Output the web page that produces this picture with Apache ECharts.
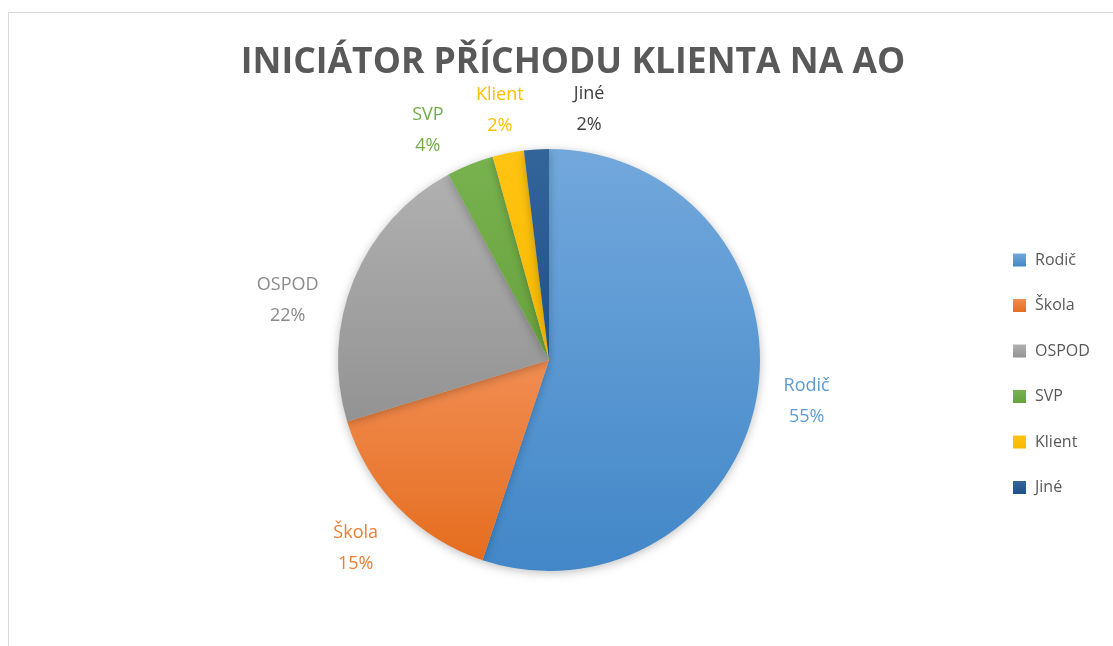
<!DOCTYPE html>
<html>
<head>
<meta charset="utf-8">
<title>Iniciátor příchodu klienta na AO</title>
<script src="https://cdn.jsdelivr.net/npm/echarts@6/dist/echarts.min.js"></script>
<style>
  html, body { margin: 0; padding: 0; background: #fff; }
  #chart { width: 1113px; height: 646px; }
</style>
</head>
<body>
<div id="chart"></div>
<script>
// data (share of clients, %)
const categories = ['Rodič', 'Škola', 'OSPOD', 'SVP', 'Klient', 'Jiné']
const values = [55.1, 15.2, 21.8, 3.6, 2.4, 1.9]

// slice colours: [top, bottom] of the gradient, plus label colour
const sliceColors = [
  ['#72a8dc', '#4287c8'],
  ['#f18d52', '#e56d1f'],
  ['#b0b0b0', '#939393'],
  ['#78b24e', '#68a23d'],
  ['#ffc412', '#f7b900'],
  ['#33659b', '#1f5189']
]
const labelColors = ['#5b9bd5', '#ed7d31', '#8a8a8a', '#70ad47', '#ffc000', '#404040']

// label placement: angle nudge (deg) and distance from the centre
const labelPlace = [
  { da: 0, d: 261 },
  { da: 0, d: 270 },
  { da: -9.5, d: 268 },
  { da: -5.8, d: 260 },
  { da: 0, d: 254 },
  { da: 12.5, d: 254 }
]

const cx = 549
const cy = 360
const radius = 211
const font = '"Open Sans", "Noto Sans", sans-serif'

const total = values.reduce((a, b) => a + b, 0)

const chart = echarts.init(document.getElementById('chart'))

chart.setOption({
  backgroundColor: '#fff',
  animation: false,
  graphic: [{
    type: 'rect',
    shape: { x: 8.5, y: 12.5, width: 1200, height: 700 },
    style: { fill: 'none', stroke: '#d9d9d9', lineWidth: 1 },
    silent: true
  }],
  title: {
    text: 'INICIÁTOR PŘÍCHODU KLIENTA NA AO',
    left: 568,
    top: 40,
    textAlign: 'center',
    textStyle: {
      fontFamily: font,
      fontWeight: 'bold',
      fontSize: 35.5,
      color: '#595959'
    }
  },
  legend: {
    orient: 'vertical',
    left: 1008,
    top: 247,
    itemWidth: 13,
    itemHeight: 13,
    itemGap: 29.5,
    icon: 'rect',
    data: categories,
    textStyle: {
      fontFamily: font,
      fontSize: 16,
      color: '#595959',
      padding: [0, 0, 0, 4]
    }
  },
  series: [{
    type: 'pie',
    center: [cx, cy],
    radius: radius,
    startAngle: 90,
    clockwise: true,
    avoidLabelOverlap: false,
    data: categories.map((name, i) => ({
      name: name,
      value: values[i],
      itemStyle: {
        color: new echarts.graphic.LinearGradient(0, 0, 0, 1, [
          { offset: 0, color: sliceColors[i][0] },
          { offset: 1, color: sliceColors[i][1] }
        ]),
        shadowBlur: 10,
        shadowColor: 'rgba(0,0,0,0.25)',
        shadowOffsetY: 2
      },
      label: { color: labelColors[i] }
    })),
    itemStyle: { borderWidth: 0 },
    emphasis: { disabled: true },
    label: {
      show: true,
      position: 'outside',
      fontFamily: font,
      fontSize: 18,
      lineHeight: 31,
      align: 'center',
      formatter: p => p.name + '\n' + Math.round(p.percent) + '%'
    },
    labelLine: { show: false },
    labelLayout: params => {
      const i = params.dataIndex
      let cum = 0
      for (let k = 0; k < i; k++) cum += values[k]
      const mid = (cum + values[i] / 2) / total * 360 + labelPlace[i].da
      const a = mid * Math.PI / 180
      return {
        x: cx + labelPlace[i].d * Math.sin(a),
        y: cy - labelPlace[i].d * Math.cos(a),
        align: 'center',
        verticalAlign: 'middle'
      }
    }
  }]
})
</script>
</body>
</html>
